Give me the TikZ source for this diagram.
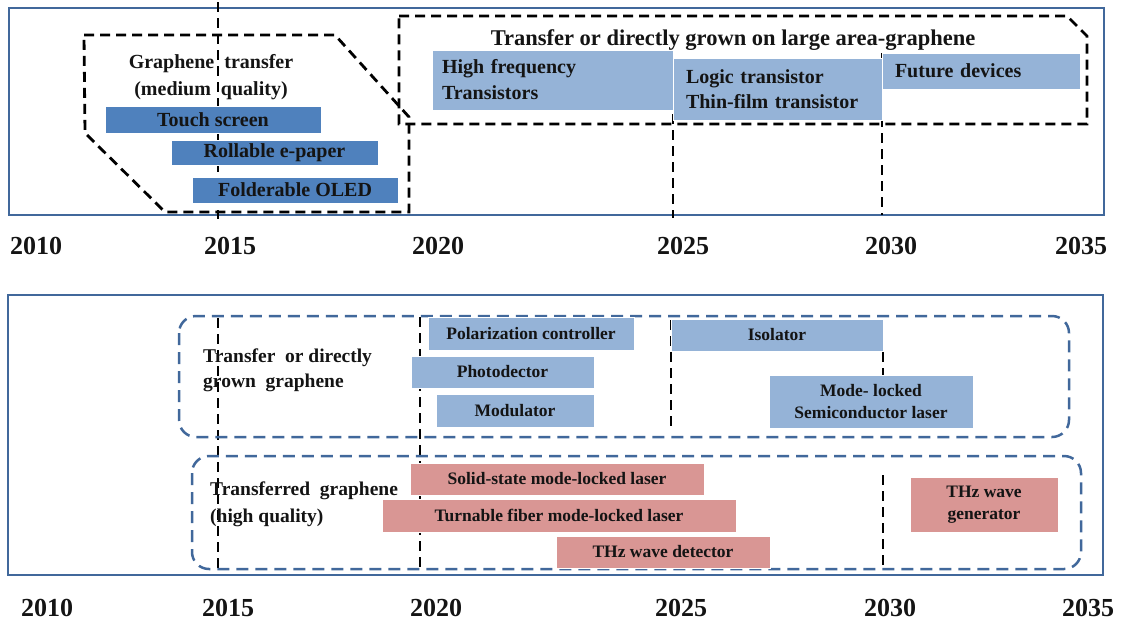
\documentclass[tikz,border=0pt]{standalone}
\usepackage{fontspec}
\setmainfont{Liberation Serif}
\definecolor{panelc}{RGB}{65,104,155}
\definecolor{lblue}{RGB}{149,179,215}
\definecolor{dblue}{RGB}{79,129,189}
\definecolor{pinkc}{RGB}{217,150,148}
\definecolor{txt}{RGB}{20,20,20}
\begin{document}
\begin{tikzpicture}[x=1pt,y=-1pt,
  panel/.style={draw=panelc,line width=2.5pt},
  blk/.style={draw=black,line width=2.8pt,dash pattern=on 10pt off 6pt},
  bld/.style={draw=panelc,line width=2.5pt,dash pattern=on 12pt off 7pt,rounded corners=17pt},
  bar/.style={inner sep=0pt,text=txt,draw=white,line width=0.5pt,align=center},
  topbar/.style={bar,font=\fontsize{20}{26}\selectfont\bfseries},
  botbar/.style={bar,font=\fontsize{17.5}{21.5}\selectfont\bfseries},
  lb/.style={fill=lblue},
  db/.style={fill=dblue},
  pk/.style={fill=pinkc},
  lbl/.style={inner sep=0pt,text=txt,font=\fontsize{19.5}{26}\selectfont\bfseries},
  yr/.style={inner sep=0pt,anchor=base,text=txt,font=\fontsize{26}{28}\selectfont\bfseries}
]
\useasboundingbox (0,0) rectangle (1127,622);

% panels
\draw[panel] (9,8) rectangle (1104,215);
\draw[panel] (8,295) rectangle (1103,575);

% year guide lines
\coordinate (a1) at (218,2);   \coordinate (a2) at (218,219);
\coordinate (b1) at (673,50);  \coordinate (b2) at (673,218);
\coordinate (c1) at (882,53);  \coordinate (c2) at (882,215);
\draw[blk] (a1) -- (a2);
\draw[blk] (b1) -- (b2);
\draw[blk] (c1) -- (c2);
\coordinate (d1) at (218,318); \coordinate (d2) at (218,570);
\coordinate (e1) at (420,317); \coordinate (e2) at (420,569);
\coordinate (f1) at (671,320); \coordinate (f2) at (671,432);
\coordinate (g1) at (883,320); \coordinate (g2) at (883,432);
\coordinate (h1) at (883,475); \coordinate (h2) at (883,567);
\draw[blk] (d1) -- (d2);
\draw[blk] (e1) -- (e2);
\draw[blk] (f1) -- (f2);
\draw[blk] (g1) -- (g2);
\draw[blk] (h1) -- (h2);

% grouping outlines
\draw[blk] (84,35) -- (335,35) -- (409,117) -- (409,212) -- (165,212) -- (85,133) -- cycle;
\draw[blk] (399,16) -- (1067,16) -- (1087,36) -- (1087,124) -- (399,124) -- cycle;
\draw[bld] (179,316) rectangle (1069,437);
\draw[bld] (192,456) rectangle (1081,569);

% top bars
\node[topbar,lb,minimum width=241pt,minimum height=60pt,inner xsep=10pt,text width=221pt,align=left] (hf) at (552.5,80) {High frequency\\Transistors};
\node[topbar,lb,minimum width=209pt,minimum height=62pt,inner xsep=13pt,text width=183pt,align=left,font=\fontsize{20}{25}\selectfont\bfseries] (lt) at (777.5,89) {Logic transistor\\Thin-film transistor};
\node[topbar,lb,minimum width=198pt,minimum height=36pt,inner xsep=13pt,text width=172pt,align=left] (fd) at (981,71) {Future devices};
\node[topbar,db,minimum width=216pt,minimum height=27pt] (ts) at (213,119.5) {Touch screen};
\node[topbar,db,minimum width=207pt,minimum height=25pt] (re) at (274.5,152.5) {Rollable e-paper};
\node[topbar,db,minimum width=206pt,minimum height=26pt] (fo) at (295,190) {Folderable OLED};

% bottom bars
\node[botbar,lb,minimum width=206pt,minimum height=33pt] (pc) at (531,333.5) {Polarization controller};
\node[botbar,lb,minimum width=183pt,minimum height=32pt] (ph) at (502.5,372) {Photodector};
\node[botbar,lb,minimum width=158pt,minimum height=33pt] (mo) at (515,410.5) {Modulator};
\node[botbar,lb,minimum width=212pt,minimum height=32pt] (is) at (777,335) {Isolator};
\node[botbar,lb,minimum width=204pt,minimum height=53pt] (ml) at (871,401.5) {Mode- locked\\Semiconductor laser};
\node[botbar,pk,minimum width=294pt,minimum height=32pt] (ss) at (557,479) {Solid-state mode-locked laser};
\node[botbar,pk,minimum width=354pt,minimum height=33pt] (tf) at (559,515.5) {Turnable fiber mode-locked laser};
\node[botbar,pk,minimum width=214pt,minimum height=32pt] (td) at (663,552) {THz wave detector};
\node[botbar,pk,minimum width=148pt,minimum height=55pt] (tg) at (984,504.5) {THz wave\\generator};

% labels
\node[lbl,font=\fontsize{22.5}{24}\selectfont\bfseries,anchor=base] (title) at (733,45) {Transfer or directly grown on large area-graphene};
\node[lbl,font=\fontsize{20}{27}\selectfont\bfseries,align=center] (gt) at (211,77) {Graphene\ \ transfer\\(medium\ \ quality)};
\node[lbl,align=left,anchor=west,font=\fontsize{19.5}{25}\selectfont\bfseries] (l1) at (203,370) {Transfer\ \ or directly\\grown\ \ graphene};
\node[lbl,align=left,anchor=west,font=\fontsize{19.5}{27}\selectfont\bfseries] (l2) at (210,504) {Transferred\ \ graphene\\(high quality)};

% years
\node[yr] (t10) at (36,254) {2010};
\node[yr] (t15) at (230,254) {2015};
\node[yr] (t20) at (438,254) {2020};
\node[yr] (t25) at (683,254) {2025};
\node[yr] (t30) at (891,254) {2030};
\node[yr] (t35) at (1081,254) {2035};
\node[yr] (u10) at (47,616) {2010};
\node[yr] (u15) at (228,616) {2015};
\node[yr] (u20) at (436,616) {2020};
\node[yr] (u25) at (681,616) {2025};
\node[yr] (u30) at (890,616) {2030};
\node[yr] (u35) at (1088,616) {2035};
\end{tikzpicture}
\end{document}
